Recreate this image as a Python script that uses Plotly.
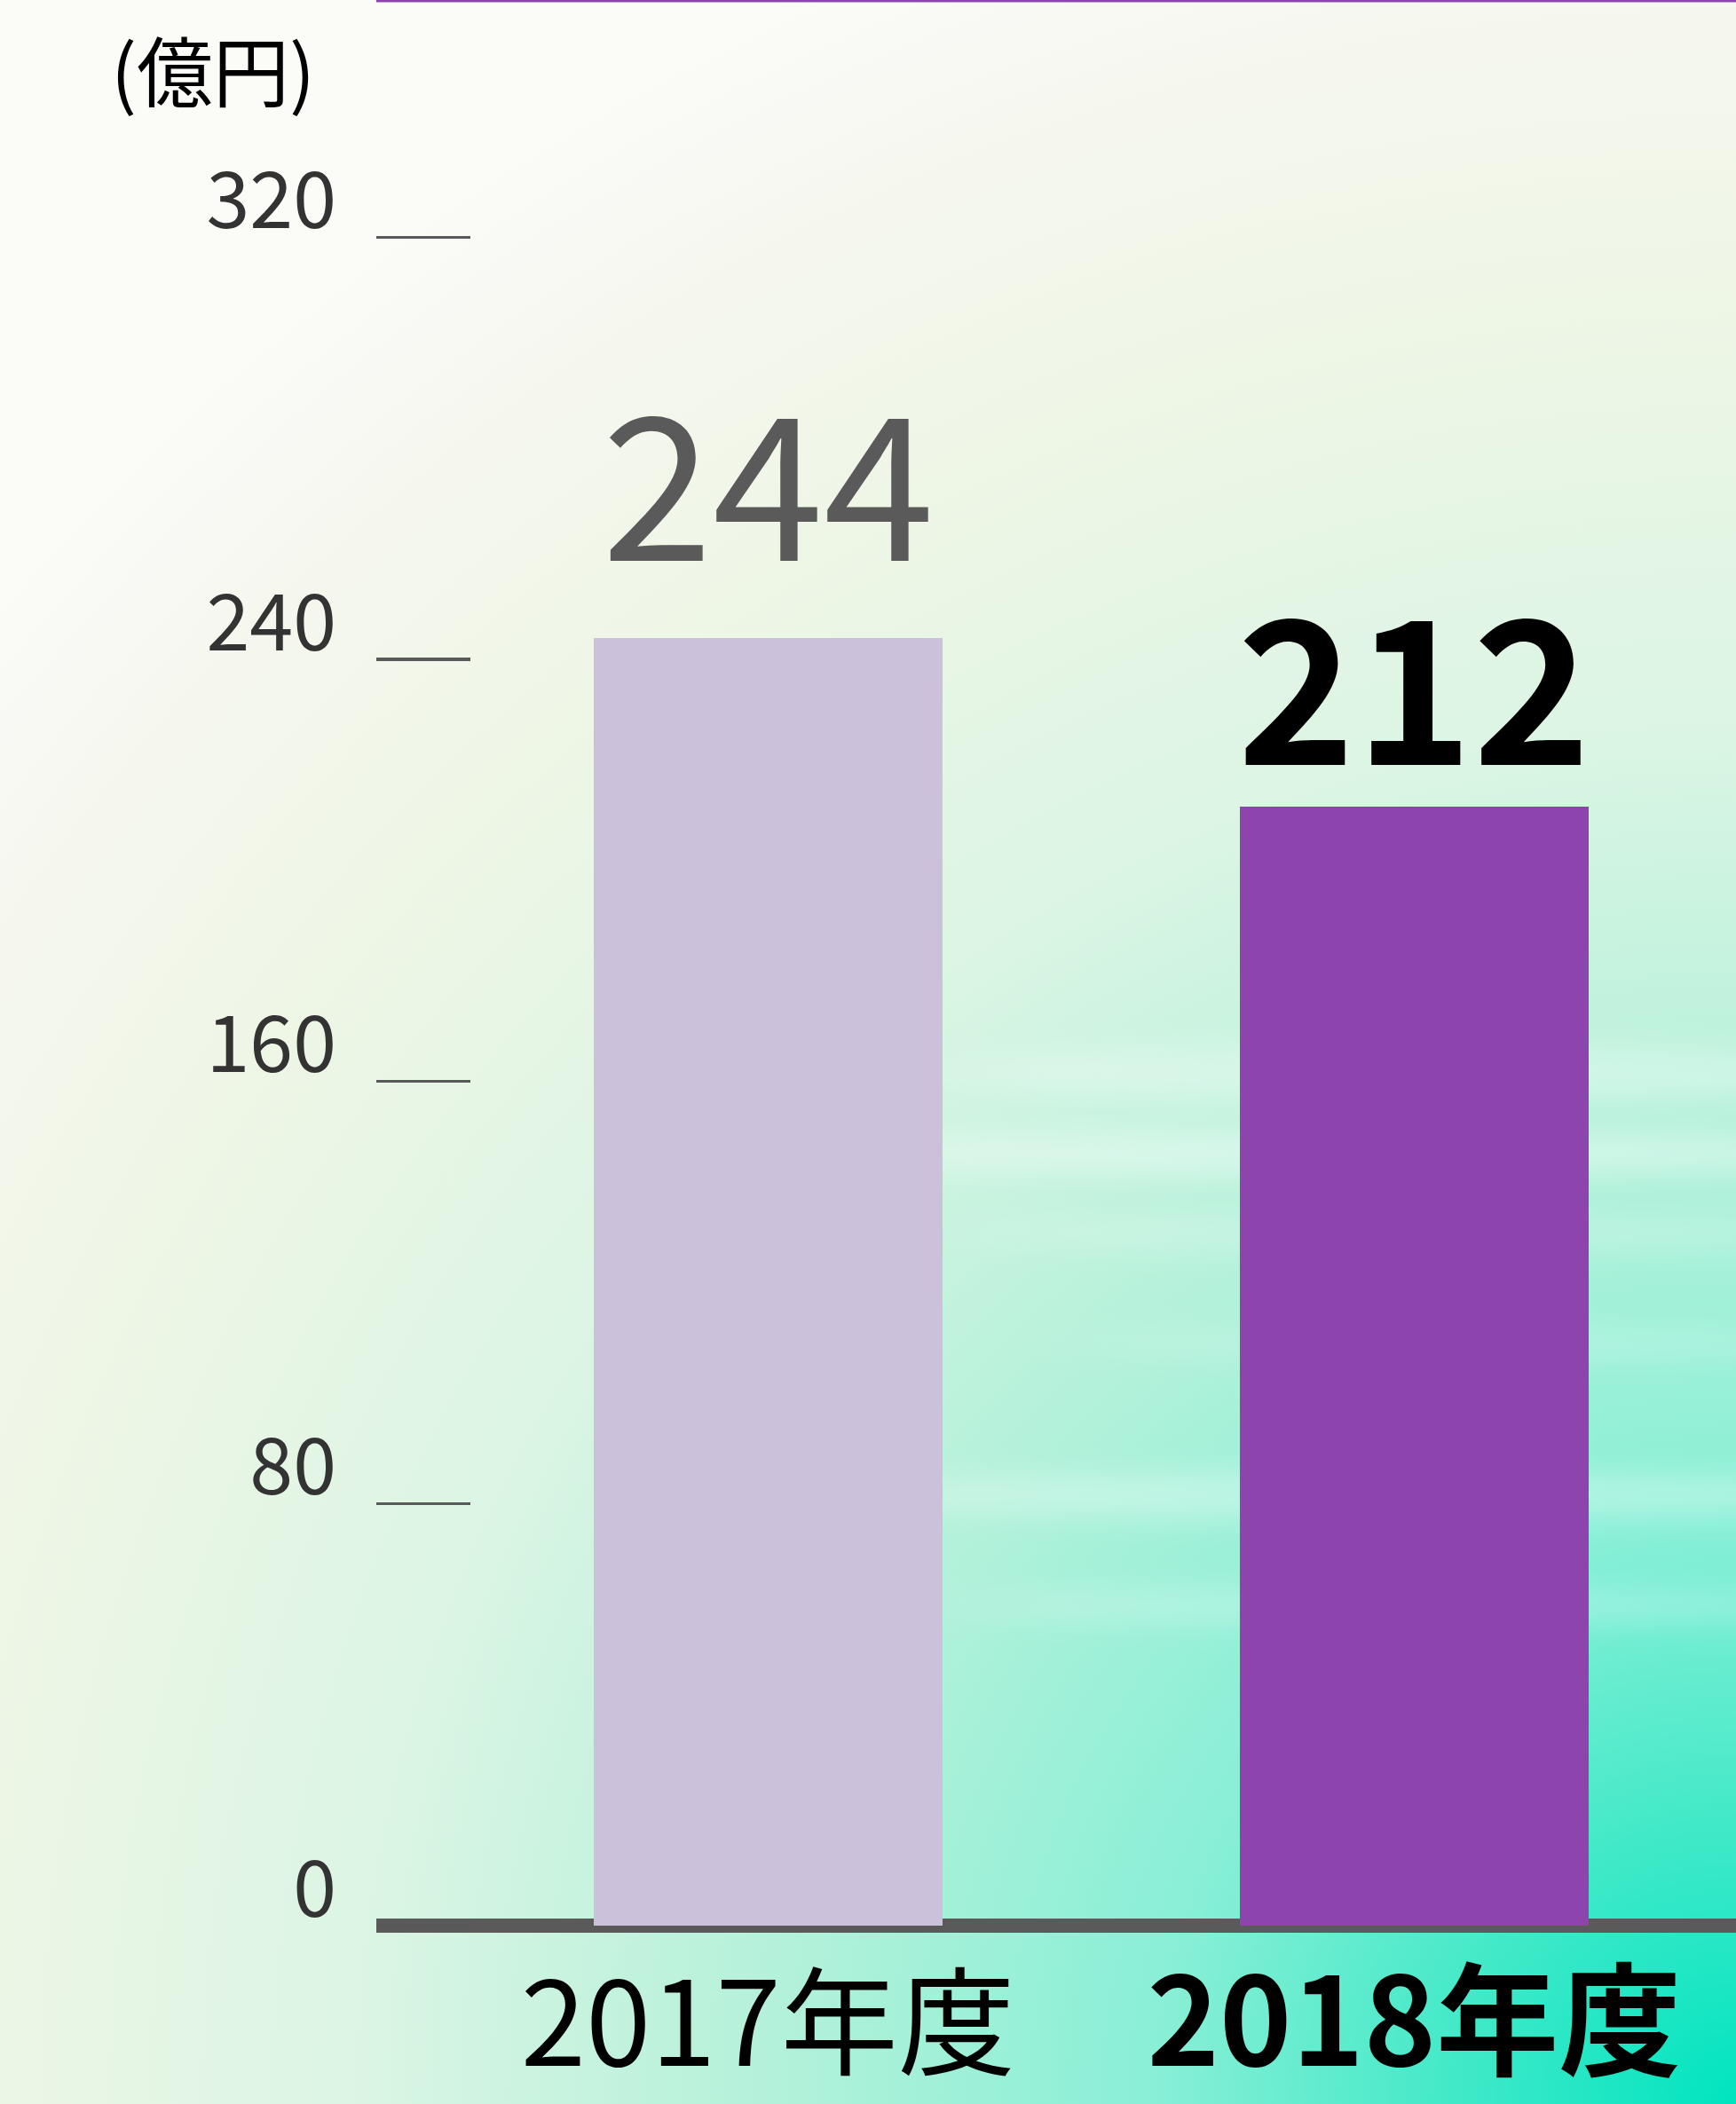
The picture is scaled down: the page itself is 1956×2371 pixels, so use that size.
import base64
import plotly.graph_objects as go

# ---- data ----
categories = ["2017年度", "2018年度"]
values = [244, 212]
bar_colors = ["#cbc1db", "#8e44ad"]
y_tickvals = [0, 80, 160, 240, 320]
unit_label = "(億円)"

# ---- layout constants ----
W, H = 1956, 2371
ML, MB = 424, 194
PW, PH = W - ML, H - MB
FONT = "Noto Sans CJK JP, Liberation Sans, sans-serif"

# background gradient (with soft light streaks) as an SVG image
stops = [(0.0, "#00e4c0"), (0.12, "#40e9c8"), (0.25, "#88efd6"), (0.42, "#b4f1da"),
         (0.6, "#dcf5e4"), (0.78, "#eef6e6"), (0.9, "#f5f7ee"), (1.0, "#fbfbf8")]
stop_xml = "".join(f'<stop offset="{o}" stop-color="{c}"/>' for o, c in stops)
streaks = [(1600, 1210, 520, 34, 0.30), (1550, 1300, 600, 26, 0.38), (1600, 1390, 500, 22, 0.22),
           (1650, 1515, 420, 20, 0.20), (1550, 1685, 600, 26, 0.32), (1600, 1810, 520, 22, 0.24)]
streak_xml = "".join(
    f'<ellipse cx="{cx}" cy="{cy}" rx="{rx}" ry="{ry}" fill="#ffffff" fill-opacity="{op}" filter="url(#b)"/>'
    for cx, cy, rx, ry, op in streaks)
svg = (f'<svg xmlns="http://www.w3.org/2000/svg" width="{W}" height="{H}" viewBox="0 0 {W} {H}" '
       f'preserveAspectRatio="none"><defs><radialGradient id="g" cx="{W}" cy="{H}" r="2600" '
       f'gradientUnits="userSpaceOnUse">{stop_xml}</radialGradient>'
       f'<filter id="b" x="-50%" y="-300%" width="200%" height="700%"><feGaussianBlur stdDeviation="60 16"/></filter></defs>'
       f'<rect width="{W}" height="{H}" fill="url(#g)"/>{streak_xml}</svg>')
bg_src = "data:image/svg+xml;base64," + base64.b64encode(svg.encode()).decode()

fig = go.Figure()
fig.add_trace(go.Bar(
    x=categories, y=values, marker=dict(color=bar_colors, line=dict(width=0)),
    width=0.54, hoverinfo="skip", showlegend=False,
))

ticktext = [
    categories[0],
    f"<b><span style='font-size:138px'>{categories[1]}</span></b>",
]

label_fonts = [
    dict(family=FONT, size=225, color="#5a5a5a"),
    dict(family=FONT, size=225, color="#000000", weight="bold"),
]
label_shifts = [20, -20]
for i, (c, v) in enumerate(zip(categories, values)):
    txt = str(v) if i == 0 else f"<b>{v}</b>"
    fig.add_annotation(x=c, y=v, text=txt, showarrow=False, xanchor="center",
                       yanchor="bottom", yshift=label_shifts[i], font=label_fonts[i])

fig.add_annotation(xref="paper", yref="paper", x=(240 - ML) / PW, y=1 - 76 / PH,
                   text=unit_label, showarrow=False, xanchor="center", yanchor="middle",
                   font=dict(family=FONT, size=86, color="#000000"))

fig.add_shape(type="line", xref="paper", yref="paper", x0=0, x1=1, y0=1, y1=1,
              line=dict(color="#8e44ad", width=5))

fig.update_layout(
    width=W, height=H,
    margin=dict(l=ML, r=0, t=0, b=MB, pad=0, autoexpand=False),
    paper_bgcolor="#f6f8f0",
    plot_bgcolor="rgba(255,255,255,0.28)",
    images=[dict(source=bg_src, xref="paper", yref="paper", x=-ML / PW, y=1,
                 sizex=W / PW, sizey=H / PH, xanchor="left", yanchor="top",
                 sizing="stretch", layer="below")],
    bargap=0,
    xaxis=dict(
        range=[-0.606, 1.498], tickmode="array", tickvals=categories, ticktext=ticktext,
        showgrid=False, zeroline=False, showline=False, ticks="", automargin=False,
        tickfont=dict(family=FONT, size=132, color="#000000"),
        ticklabelstandoff=18, fixedrange=True,
    ),
    yaxis=dict(
        range=[-7 / 5.946, 2170 / 5.946], tickmode="array", tickvals=y_tickvals,
        showgrid=False, showline=False, automargin=False,
        zeroline=True, zerolinewidth=16, zerolinecolor="#5a5a5a",
        ticks="inside", ticklen=106, tickwidth=3.5, tickcolor="#595959",
        tickfont=dict(family=FONT, size=88, color="#333333"),
        ticklabelstandoff=44, ticklabelshift=-41, layer="above traces",
        fixedrange=True,
    ),
)

fig.write_html("out.html", config={"displayModeBar": False, "staticPlot": True},
               post_script="document.body.style.margin='0';")
